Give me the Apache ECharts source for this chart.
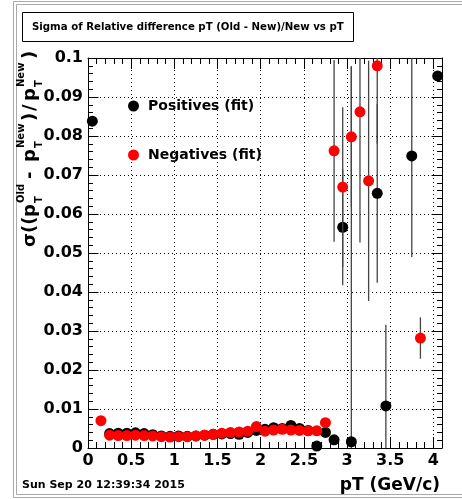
<!DOCTYPE html>
<html><head><meta charset="utf-8">
<script src="https://cdn.jsdelivr.net/npm/echarts@6/dist/echarts.min.js"></script>
<style>html,body{margin:0;padding:0;background:#fff}#c{width:462px;height:499px}</style>
</head><body><div id="c"></div>
<script>
const titleText = 'Sigma of Relative difference pT (Old - New)/New vs pT';
const xTitle = 'pT (GeV/c)';
const dateText = 'Sun Sep 20 12:39:34 2015';
const seriesNames = ['Positives (fit)', 'Negatives (fit)'];

// Positives (fit): bin centres, sigma values, errors
const posX = [0.05, 0.25, 0.35, 0.45, 0.55, 0.65, 0.75, 0.85, 0.95, 1.05, 1.15, 1.25, 1.35, 1.45, 1.55, 1.65, 1.75, 1.85, 1.95, 2.05, 2.15, 2.25, 2.35, 2.45, 2.55, 2.65, 2.75, 2.85, 2.95, 3.05, 3.35, 3.45, 3.75, 4.05];
const posY = [0.0838, 0.0037, 0.0038, 0.0038, 0.0039, 0.0037, 0.0034, 0.0031, 0.0030, 0.0031, 0.0030, 0.0031, 0.0033, 0.0035, 0.0036, 0.0037, 0.0035, 0.0040, 0.0045, 0.0048, 0.0052, 0.0050, 0.0058, 0.0050, 0.0045, 0.0005, 0.0040, 0.0021, 0.0566, 0.0016, 0.0653, 0.0108, 0.0749, 0.0954];
const posErr = [0, 0.0002, 0.0002, 0.0002, 0.0002, 0.0002, 0.0002, 0.0002, 0.0002, 0.0002, 0.0002, 0.0002, 0.0002, 0.0002, 0.0002, 0.0002, 0.0002, 0.0002, 0.0002, 0.0002, 0.0002, 0.0002, 0.0002, 0.0002, 0.0002, 0.0003, 0.0003, 0.0003, 0.0149, 0.0963, 0.0229, 0.0208, 0.0259, 0];

// Negatives (fit)
const negX = [0.15, 0.25, 0.35, 0.45, 0.55, 0.65, 0.75, 0.85, 0.95, 1.05, 1.15, 1.25, 1.35, 1.45, 1.55, 1.65, 1.75, 1.85, 1.95, 2.05, 2.15, 2.25, 2.35, 2.45, 2.55, 2.65, 2.75, 2.85, 2.95, 3.05, 3.15, 3.25, 3.35, 3.85];
const negY = [0.0070, 0.0033, 0.0032, 0.0032, 0.0033, 0.0032, 0.0031, 0.0029, 0.0028, 0.0029, 0.0029, 0.0031, 0.0033, 0.0035, 0.0038, 0.0040, 0.0041, 0.0043, 0.0055, 0.0043, 0.0046, 0.0048, 0.0046, 0.0045, 0.0044, 0.0044, 0.0065, 0.0762, 0.0669, 0.0798, 0.0862, 0.0685, 0.0980, 0.0282];
const negErr = [0.0003, 0.0002, 0.0002, 0.0002, 0.0002, 0.0002, 0.0002, 0.0002, 0.0002, 0.0002, 0.0002, 0.0002, 0.0002, 0.0002, 0.0002, 0.0002, 0.0002, 0.0002, 0.0002, 0.0002, 0.0002, 0.0002, 0.0002, 0.0002, 0.0002, 0.0002, 0.0005, 0.0233, 0.0205, 0.0180, 0.0335, 0.0308, 0.0200, 0.0053];

const xMin = 0, xMax = 4.1, xInterval = 0.5;
const yMin = 0, yMax = 0.1, yInterval = 0.01;

const FONT = 'DejaVu Sans';
const chart = echarts.init(document.getElementById('c'), null, {renderer: 'canvas'});

function axisBase(pos, showLabel, tickLen, minorLen) {
  return {
    type: 'value', position: pos,
    axisLine: {show: true, onZero: false, lineStyle: {color: '#000', width: 1}},
    axisTick: {show: true, inside: true, length: tickLen, lineStyle: {color: '#000', width: 1}},
    minorTick: {show: true, splitNumber: 5, length: minorLen, lineStyle: {color: '#000', width: 1}},
    axisLabel: {show: showLabel, fontFamily: FONT, fontWeight: 'bold', fontSize: 16, color: '#000', margin: 5, showMaxLabel: pos === 'left' ? true : false},
    splitLine: {show: showLabel, lineStyle: {color: '#000', width: 1, type: [1, 3]}},
    minorSplitLine: {show: false}
  };
}

const xBottom = Object.assign(axisBase('bottom', true, 11, 6), {
  min: xMin, max: xMax, interval: xInterval,
  name: xTitle, nameLocation: 'end', nameGap: -2,
  nameTextStyle: {fontFamily: FONT, fontWeight: 'bold', fontSize: 17, color: '#000', align: 'right', verticalAlign: 'top', padding: [29, 0, 0, 0]}
});
const xTop = Object.assign(axisBase('top', false, 11, 6), {min: xMin, max: xMax, interval: xInterval});
const yLeft = Object.assign(axisBase('left', true, 10.5, 5), {min: yMin, max: yMax, interval: yInterval});
const yRight = Object.assign(axisBase('right', false, 10.5, 5), {min: yMin, max: yMax, interval: yInterval});

function errSeries(xs, ys, es, z) {
  return {
    type: 'custom', xAxisIndex: 0, yAxisIndex: 0, z: z, silent: true,
    encode: {x: 0, y: 1},
    data: xs.map((x, i) => [x, ys[i], es[i]]),
    renderItem: function (params, api) {
      const x = api.value(0), y = api.value(1), e = api.value(2);
      if (!e) return null;
      const p1 = api.coord([x, y - e]);
      const p2 = api.coord([x, y + e]);
      const cs = params.coordSys;
      const top = cs.y, bot = cs.y + cs.height;
      const y1 = Math.min(bot, Math.max(top, p1[1]));
      const y2 = Math.min(bot, Math.max(top, p2[1]));
      return {type: 'line', shape: {x1: p1[0], y1: y1, x2: p1[0], y2: y2}, style: {stroke: '#444', lineWidth: 1.3}};
    }
  };
}

function scatter(name, xs, ys, color, z) {
  return {
    name: name, type: 'scatter', xAxisIndex: 0, yAxisIndex: 0, z: z,
    symbol: 'circle', symbolSize: 11,
    itemStyle: {color: color, opacity: 1},
    data: xs.map((x, i) => [x, ys[i]])
  };
}

// rotated y-axis title built from pieces (main, subscripts, superscripts)
const yTitlePieces = [
  ['σ', 0, 0, 18], ['((', 14, 0, 18], ['p', 30, 0, 18],
  ['T', 44, 6, 10], ['Old', 44, -12, 10],
  ['-', 68, 0, 18], ['p', 85, 0, 18],
  ['T', 99, 6, 10], ['New', 99, -12, 10],
  [')', 126, 0, 18], ['/', 136, 0, 18], ['p', 146, 0, 18],
  ['T', 160, 6, 10], ['New', 160, -12, 10],
  [')', 188, 0, 18]
];
const yTitleChildren = yTitlePieces.map(p => ({
  type: 'text', x: p[1], y: p[2] - 0.35 * p[3],
  style: {text: p[0], font: 'bold ' + p[3] + 'px "' + FONT + '"', fill: '#000', textAlign: 'left', textVerticalAlign: 'middle'}
}));

chart.setOption({
  animation: false,
  backgroundColor: '#fff',
  title: {
    text: titleText, left: 22, top: 12,
    borderColor: '#000', borderWidth: 1, backgroundColor: '#fff',
    padding: [9, 10, 8, 10],
    textStyle: {fontFamily: FONT, fontWeight: 'bold', fontSize: 10.2, color: '#000', lineHeight: 13}
  },
  legend: {
    data: seriesNames, orient: 'vertical', left: 128, top: 99, padding: 0,
    itemWidth: 11, itemHeight: 11, itemGap: 35, icon: 'circle', selectedMode: false,
    textStyle: {fontFamily: FONT, fontWeight: 'bold', fontSize: 14, color: '#000', lineHeight: 14, padding: [0, 0, 0, 4]}
  },
  grid: {left: 88, top: 58, width: 354, height: 390, containLabel: false},
  xAxis: [xBottom, xTop],
  yAxis: [yLeft, yRight],
  series: [
    errSeries(posX, posY, posErr, 2),
    scatter(seriesNames[0], posX, posY, '#000', 3),
    errSeries(negX, negY, negErr, 4),
    scatter(seriesNames[1], negX, negY, '#ff0000', 5)
  ],
  graphic: [
    {type: 'rect', shape: {x: 13.5, y: 1.5, width: 470, height: 496}, style: {fill: 'none', stroke: '#aaa', lineWidth: 1}, silent: true},
    {type: 'rect', shape: {x: 16.5, y: 4.5, width: 470, height: 490}, style: {fill: 'none', stroke: '#aaa', lineWidth: 1}, silent: true},
    {type: 'text', x: 22, y: 485, style: {text: dateText, font: 'bold 11px "' + FONT + '"', fill: '#000', textAlign: 'left', textVerticalAlign: 'middle'}},
    {type: 'group', x: 37, y: 247, rotation: Math.PI / 2, children: yTitleChildren}
  ]
});
</script></body></html>
